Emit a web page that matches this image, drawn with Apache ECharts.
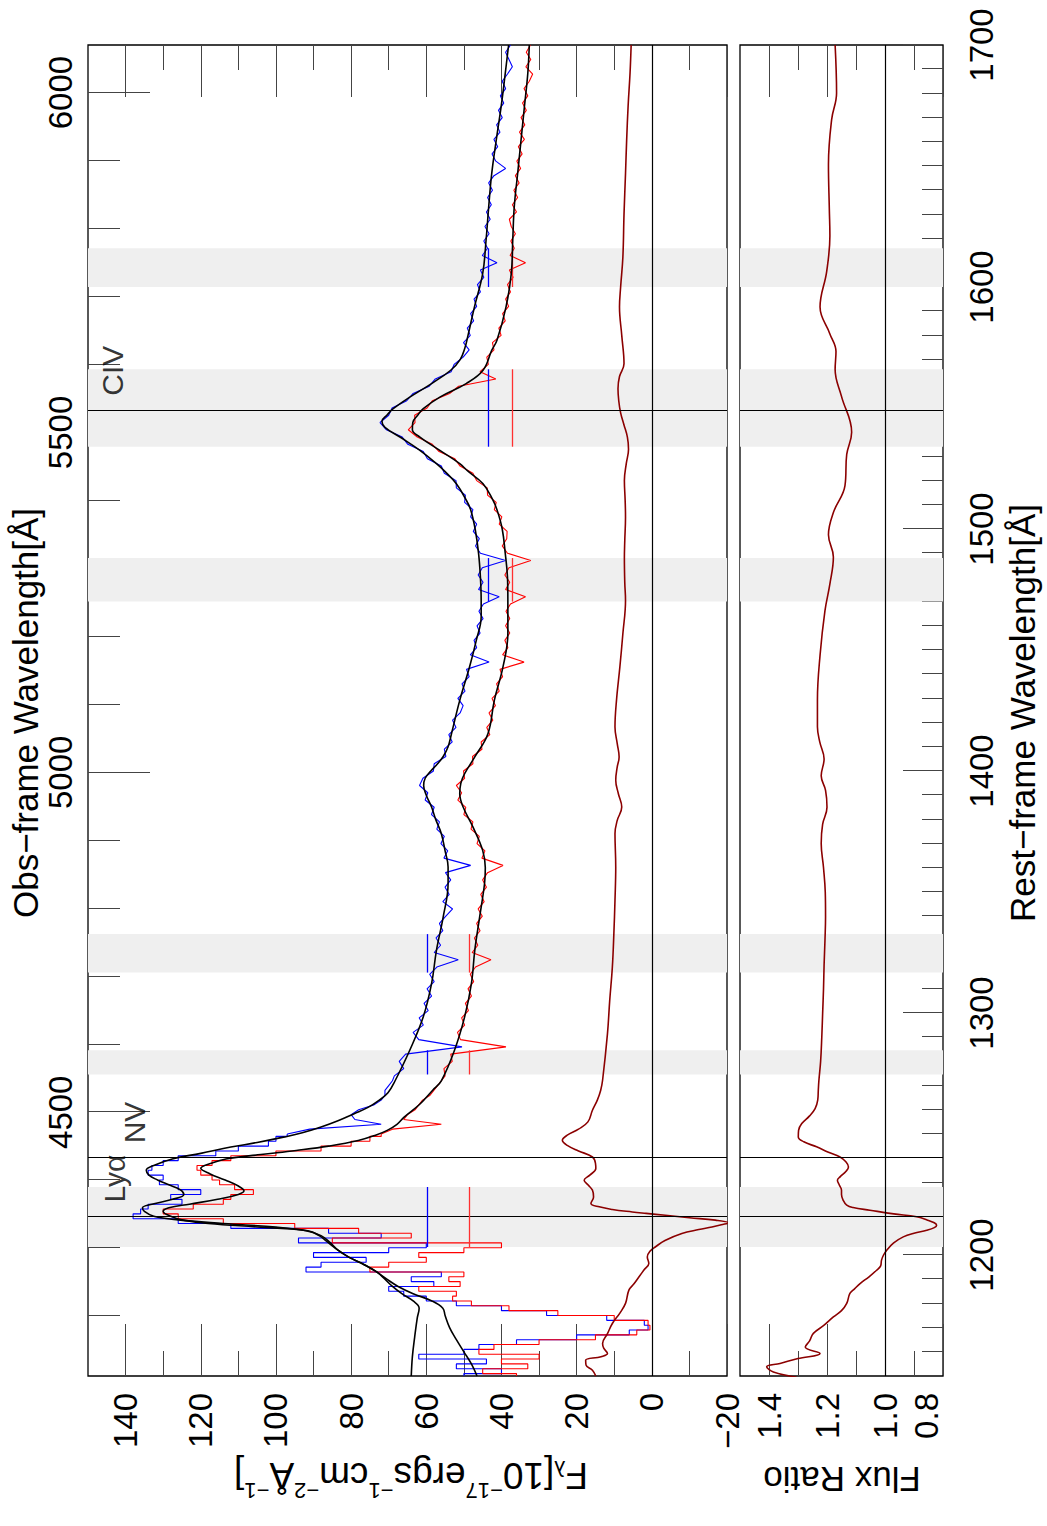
<!DOCTYPE html>
<html>
<head>
<meta charset="utf-8">
<title>Spectrum</title>
<script src="https://cdn.jsdelivr.net/npm/echarts@6/dist/echarts.min.js"></script>
<style>
  html, body { margin: 0; padding: 0; background: #fff; overflow: hidden; }
  #page { position: relative; width: 1047px; height: 1526px; overflow: hidden; }
  /* 横版图表整体逆时针旋转 90 度 */
  #chart { position: absolute; left: 0; top: 0; width: 1526px; height: 1047px;
           transform-origin: 0 0; transform: translate(0px, 1526px) rotate(-90deg); }
</style>
</head>
<body>
<div id="page"><div id="chart"></div></div>
<script>
// 坐标范围
const restRange = [1150, 1700];
const obsRange = [4112, 6070];
const fluxRange = [-20, 150];
const ratioRange = [0.8, 1.5];

// 刻度
const fluxTicks = [-20, 0, 20, 40, 60, 80, 100, 120, 140];
const fluxMinor = [-10, 10, 30, 50, 70, 90, 110, 130];
const ratioTicks = [0.8, 1.0, 1.2, 1.4];
const ratioMinor = [0.9, 1.1, 1.3];
const restTicks = [1200, 1300, 1400, 1500, 1600, 1700];
const obsTicks = [4500, 5000, 5500, 6000];
const restMinor = [];
for (let w = 1160; w < 1700; w += 10) restMinor.push(w);
const obsMinor = [];
for (let w = 4200; w <= 6000; w += 100) obsMinor.push(w);

// 谱线位置与标注
const lineWaves = [1215.67, 1240.14, 1549.06];
const lineNames = ['Lyα', 'NV', 'CIV'];
const lineLabelY = [143, 137.5, 143.5];

// 连续谱窗口
const bandRanges = [[1203.3, 1228.1], [1274.6, 1284.6], [1316.7, 1332.6], [1470, 1488], [1534, 1566], [1600, 1616]];
const contBlue = [59.7, 59.7, 59.7, 43.6, 43.6, 43.6];
const contRed = [48.5, 48.5, 48.5, 37.0, 37.0, 37.0];

// 光谱采样波长: 1150-1272 步长 2, 1274-1700 步长 3
const specWave = [];
for (let w = 1150; w <= 1272; w += 2) specWave.push(w);
for (let w = 1274; w <= 1700; w += 3) specWave.push(w);
const stepLimit = 1250; // 此波长以下按台阶线画

const blueSpec = [
  50, 40, 52, 44, 62, 50, 46, 36, 20, 6,
  1, 2, 12, 28, 40, 52, 60, 66, 70, 58,
  64, 56, 92, 88, 76, 90, 70, 60, 94, 72,
  86, 112, 126, 138, 136, 134, 125, 128, 120, 126,
  131, 130, 134, 133, 130, 126, 116, 110, 102, 100,
  97, 91, 72, 79, 80, 78, 74, 72, 71, 71,
  70, 69,
  68.5, 66.0, 67.2, 65.5, 50.5, 62.0, 63.5, 60.8, 61.9, 59.5,
  60.6, 58.6, 59.8, 57.9, 59.1, 57.2, 51.5, 57.9, 56.2, 57.4,
  55.6, 56.5, 54.8, 53.0, 55.6, 53.9, 55.0, 53.5, 54.9, 48.2,
  55.3, 54.3, 56.1, 55.2, 57.2, 56.5, 58.6, 57.9, 60.3, 59.6,
  61.8, 60.9, 58.1, 57.9, 54.8, 55.2, 53.1, 54.0, 52.1, 53.0,
  51.0, 50.2, 51.6, 49.7, 50.5, 48.6, 49.3, 43.3, 48.3, 46.6,
  47.3, 45.7, 46.5, 44.9, 46.0, 44.8, 40.6, 46.1, 44.9, 46.2,
  45.1, 38.9, 45.6, 46.9, 45.9, 47.5, 46.6, 48.2, 47.6, 49.8,
  49.6, 52.0, 52.1, 55.2, 56.0, 59.7, 60.8, 64.9, 66.4, 70.6,
  72.3, 70.0, 69.1, 65.2, 63.5, 59.2, 57.6, 53.4, 52.6, 50.2,
  48.6, 50.1, 48.3, 49.1, 47.4, 48.2, 46.6, 47.3, 45.6, 46.4,
  44.7, 45.6, 41.2, 45.1, 43.7, 44.7, 43.3, 44.4, 43.0, 44.0,
  42.7, 43.7, 42.4, 43.4, 42.0, 38.9, 41.5, 42.5, 41.0, 42.0,
  40.4, 41.3, 39.8, 40.8, 39.4, 40.3, 38.9, 39.8, 38.4, 37.1,
  38.0, 38.9, 37.6
];

const redSpec = [
  36, 45, 33, 40, 30, 46, 42, 30, 15, 4,
  0.5, 1, 10, 25, 38, 48, 53, 52, 62, 51,
  54, 50, 75, 70, 60, 62, 50, 40, 85, 64,
  78, 95, 114, 126, 130, 122, 114, 112, 106, 111,
  115, 117, 120, 121, 117, 112, 100, 88, 80, 75,
  72, 69, 56, 66, 65, 63, 62, 61, 59, 58,
  57, 56,
  55.0, 55.3, 53.1, 53.5, 38.8, 50.9, 51.7, 49.8, 50.6, 48.8,
  49.6, 48.0, 48.9, 47.4, 48.3, 46.9, 42.8, 47.8, 46.3, 47.2,
  45.7, 46.6, 45.1, 46.2, 44.6, 45.5, 44.0, 45.0, 43.7, 39.6,
  45.2, 44.4, 46.5, 45.9, 48.1, 47.6, 50.0, 49.5, 51.6, 50.6,
  52.0, 49.8, 50.1, 47.6, 47.7, 45.2, 45.4, 43.1, 43.9, 42.3,
  43.3, 41.6, 42.5, 40.6, 41.3, 39.7, 40.4, 34.0, 39.7, 38.3,
  39.1, 37.8, 38.9, 37.8, 38.8, 37.6, 33.6, 38.9, 37.8, 39.1,
  38.0, 32.2, 38.4, 39.8, 38.6, 38.5, 40.6, 39.9, 41.9, 41.4,
  43.7, 43.8, 46.6, 47.6, 51.0, 52.4, 56.6, 58.4, 62.4, 64.8,
  63.0, 63.1, 59.8, 58.4, 53.8, 51.4, 41.5, 45.7, 43.5, 43.9,
  42.0, 42.4, 40.1, 40.7, 39.0, 39.7, 38.1, 38.9, 37.6, 38.4,
  36.9, 37.9, 33.6, 37.7, 36.6, 37.5, 36.3, 37.4, 37.9, 36.0,
  37.1, 35.7, 36.7, 35.3, 36.3, 34.9, 35.9, 34.5, 35.5, 33.9,
  35.2, 33.8, 34.8, 33.4, 34.4, 33.0, 34.0, 32.6, 31.7, 33.5,
  32.2, 33.4, 32.3
];

// 拟合曲线
const blueFitWave = [1150, 1158, 1166, 1174, 1178, 1181, 1184, 1187, 1190, 1193, 1196, 1199, 1202, 1205, 1208, 1210, 1211.5, 1213, 1214.5, 1216, 1218, 1219.5, 1221, 1223, 1225, 1227, 1229, 1231, 1233, 1235, 1237, 1239.7, 1242, 1244.6, 1246.5, 1248.7, 1250.5, 1252.9, 1255.5, 1258.4, 1261, 1263.9, 1267, 1272, 1284.6, 1298.4, 1312.1, 1325.9, 1339.7, 1353.5, 1360.3, 1367, 1374.1, 1380, 1385.1, 1390, 1394, 1397, 1400, 1403, 1406, 1410, 1415.4, 1429.2, 1443, 1454, 1463.7, 1470.5, 1480, 1490, 1500, 1508, 1512, 1518.7, 1524, 1527, 1532.5, 1538, 1542, 1544.5, 1547, 1549.7, 1554.5, 1560.1, 1565.6, 1570, 1575, 1580, 1591.7, 1605.5, 1619.3, 1633.1, 1646.8, 1660.6, 1674.4, 1688.2, 1700];
const blueFitFlux = [64.0, 63.7, 63.1, 62.4, 61.9, 63.5, 66.5, 69.0, 71.0, 73.2, 76.5, 80.5, 83.5, 85.5, 88.0, 92.0, 100.0, 114.0, 126.0, 132.5, 135.0, 135.5, 133.0, 127.5, 124.5, 125.5, 128.5, 131.5, 133.8, 134.5, 132.5, 127.6, 120.0, 112.0, 105.0, 98.0, 93.0, 88.0, 83.5, 79.2, 75.5, 72.6, 70.2, 68.3, 64.4, 60.8, 58.6, 57.3, 55.5, 54.2, 54.2, 55.0, 56.0, 57.5, 58.6, 60.0, 60.7, 60.3, 58.8, 57.0, 55.5, 54.2, 53.3, 51.1, 48.5, 46.7, 45.4, 45.4, 45.6, 46.1, 47.0, 48.2, 49.4, 52.0, 55.2, 57.3, 61.7, 67.0, 71.0, 71.8, 70.5, 68.8, 64.4, 58.6, 53.5, 51.0, 49.7, 48.9, 47.2, 45.0, 44.1, 43.4, 42.6, 41.4, 40.1, 39.0, 38.1];

const redFitWave = [1150, 1155, 1160, 1165, 1170, 1175, 1178, 1181, 1184, 1187, 1190, 1193, 1196, 1199, 1202, 1205, 1208, 1210, 1211.5, 1213, 1214.5, 1216, 1218, 1219.5, 1221, 1223, 1225, 1226.5, 1228.5, 1231, 1233.5, 1235.8, 1238, 1239.7, 1241.5, 1243.2, 1245, 1247.3, 1249.5, 1251.5, 1254, 1257, 1262.5, 1268.1, 1272, 1284.6, 1298.4, 1312.1, 1325.9, 1339.7, 1353.5, 1360, 1367.2, 1376.9, 1385.1, 1390.6, 1395, 1398.9, 1405.8, 1415.4, 1429.2, 1443, 1456.8, 1470.5, 1480, 1490, 1500, 1508, 1512, 1518.7, 1524, 1527, 1532.5, 1538, 1541, 1544, 1547, 1549.7, 1554.5, 1560.1, 1565.6, 1573.8, 1578, 1591.7, 1605.5, 1619.3, 1633.1, 1646.8, 1660.6, 1674.4, 1688.2, 1700];
const redFitFlux = [46.5, 48.0, 50.0, 52.0, 53.8, 55.0, 55.6, 58.5, 63.5, 67.5, 70.5, 73.2, 76.5, 80.5, 83.5, 86.0, 88.5, 91.5, 104.0, 118.0, 125.0, 128.0, 130.0, 128.5, 123.0, 115.5, 110.0, 108.5, 110.0, 113.5, 117.5, 120.0, 117.0, 113.3, 104.0, 94.6, 86.0, 78.1, 73.5, 70.4, 67.8, 65.9, 61.6, 58.3, 56.0, 52.5, 49.8, 48.0, 47.1, 45.8, 44.5, 44.3, 45.0, 47.6, 50.2, 51.1, 50.8, 49.8, 47.1, 43.6, 41.9, 39.6, 38.3, 38.3, 38.4, 39.0, 39.8, 41.2, 42.3, 44.9, 49.0, 51.1, 56.4, 61.7, 63.7, 63.6, 62.3, 60.8, 56.4, 49.4, 44.9, 42.6, 41.2, 38.8, 37.4, 37.0, 36.6, 35.7, 34.8, 33.9, 33.0, 32.6];

// 差值曲线
const diffWave = [1150, 1152.4, 1154.5, 1156.5, 1158, 1159.3, 1161.5, 1163.4, 1167.5, 1171.7, 1176, 1180, 1185.5, 1188, 1191, 1194, 1196.5, 1199.2, 1201.5, 1203.4, 1206, 1208.9, 1210.5, 1211.6, 1212.5, 1213.3, 1214.4, 1215.4, 1216.4, 1217.2, 1217.8, 1218.8, 1219.9, 1221.3, 1224, 1226.8, 1229, 1230.9, 1233, 1235.7, 1238, 1240.5, 1243, 1245.3, 1247.4, 1249.5, 1252, 1255, 1259.8, 1264, 1268.1, 1272.2, 1291.5, 1305.2, 1319, 1332.8, 1346.6, 1360.3, 1374.1, 1379.6, 1385.1, 1390.6, 1396.2, 1401.7, 1405.8, 1411.3, 1418.2, 1429.2, 1443, 1456.8, 1470.5, 1478, 1488, 1495, 1505, 1512, 1520, 1527, 1533, 1538, 1543, 1548, 1553, 1558, 1563, 1568.3, 1580, 1591.7, 1600, 1612.4, 1630, 1646.8, 1660.6, 1675, 1688.2, 1700];
const diffFlux = [14.9, 15.8, 17.5, 17.6, 13.5, 11.8, 12.8, 13.1, 11.8, 10.5, 8.5, 7.0, 6.1, 4.8, 3.4, 2.0, 0.8, 1.2, 0.5, -1.0, -3.5, -8.0, -12.5, -16.0, -18.5, -20.5, -16.9, -10.0, -3.6, 1.5, 5.2, 10.5, 14.0, 16.2, 15.5, 15.8, 17.0, 18.0, 16.5, 14.9, 15.0, 15.8, 19.5, 22.5, 23.8, 22.5, 19.5, 17.0, 15.8, 14.5, 13.6, 13.1, 11.8, 11.2, 10.5, 10.1, 9.8, 9.6, 9.8, 9.2, 8.0, 8.9, 9.6, 9.2, 8.7, 9.2, 9.8, 9.4, 8.5, 7.7, 7.0, 7.2, 7.3, 7.2, 7.0, 7.1, 7.3, 6.8, 6.2, 6.5, 7.4, 8.3, 8.8, 9.0, 8.6, 7.4, 8.0, 8.6, 8.3, 7.7, 7.4, 7.0, 6.7, 6.3, 5.8, 5.5];

// 流量比
const ratioWave = [1149.5, 1151.7, 1153.8, 1155.2, 1157.2, 1159.3, 1162, 1164.5, 1167.6, 1171, 1174.4, 1177, 1180, 1184.1, 1186, 1188.2, 1191, 1193.7, 1195.5, 1197.9, 1200, 1202, 1205, 1207.5, 1209, 1210.2, 1211.3, 1212.3, 1213.3, 1214.5, 1215.8, 1217, 1218.5, 1219.6, 1220.6, 1222.6, 1225, 1226.8, 1229, 1230.9, 1232.3, 1234.5, 1236.4, 1238.5, 1240.5, 1242.5, 1244.7, 1246.8, 1248.8, 1251.5, 1254.3, 1257.5, 1260.5, 1264, 1268.1, 1272, 1280, 1290, 1300, 1310, 1320, 1330, 1340, 1350, 1360, 1370, 1378, 1385, 1392, 1398, 1405, 1412, 1418.3, 1429.4, 1447.8, 1466.3, 1477.3, 1488.4, 1497.6, 1506.8, 1517.9, 1530.8, 1540, 1554.8, 1565.9, 1573.3, 1580.6, 1591.7, 1606.5, 1621.2, 1632.3, 1650.7, 1669.2, 1680.2, 1700];
const ratioVals = [1.305, 1.385, 1.408, 1.362, 1.30, 1.224, 1.275, 1.26, 1.247, 1.21, 1.178, 1.15, 1.132, 1.121, 1.105, 1.086, 1.055, 1.029, 1.015, 1.012, 1.005, 0.994, 0.97, 0.937, 0.9, 0.856, 0.83, 0.822, 0.83, 0.855, 0.891, 0.97, 1.052, 1.11, 1.132, 1.144, 1.15, 1.15, 1.158, 1.164, 1.155, 1.135, 1.126, 1.135, 1.155, 1.195, 1.236, 1.28, 1.299, 1.298, 1.287, 1.26, 1.241, 1.232, 1.23, 1.228, 1.222, 1.218, 1.215, 1.212, 1.21, 1.207, 1.205, 1.206, 1.212, 1.22, 1.215, 1.2, 1.205, 1.22, 1.21, 1.225, 1.233, 1.233, 1.224, 1.207, 1.19, 1.178, 1.195, 1.178, 1.138, 1.132, 1.115, 1.15, 1.172, 1.169, 1.19, 1.224, 1.201, 1.19, 1.192, 1.195, 1.184, 1.167, 1.172];

const FONT = 'Liberation Sans, Arial, sans-serif';

function zip(xs, ys) {
  const n = Math.min(xs.length, ys.length);
  const out = [];
  for (let i = 0; i < n; i++) out.push([xs[i], ys[i]]);
  return out;
}

// 坐标轴: 只画刻度, 外框由 grid 边框提供
function makeAxis(base, ticks, len, label) {
  return Object.assign({
    type: 'value',
    silent: true,
    axisLine: { show: false, onZero: false },
    splitLine: { show: false },
    axisTick: {
      show: ticks.length > 0, inside: true, length: len, customValues: ticks,
      lineStyle: { color: '#444', width: 1 }
    },
    axisLabel: label
      ? Object.assign({ show: true, customValues: ticks, color: '#000', fontSize: 33, fontFamily: FONT, formatter: v => String(v) }, label)
      : { show: false }
  }, base);
}

const minusFmt = v => String(v).replace('-', '−');

function lineSeries(name, x, y, data, color, width, extra) {
  return Object.assign({
    name, type: 'line', xAxisIndex: x, yAxisIndex: y, data,
    symbol: 'none', showSymbol: false, silent: true,
    lineStyle: { color, width }, itemStyle: { color }
  }, extra || {});
}

function bandSeries(x, y) {
  return {
    type: 'line', xAxisIndex: x, yAxisIndex: y, data: [], z: 0, silent: true,
    markArea: {
      silent: true, itemStyle: { color: '#efefef' },
      data: bandRanges.map(r => [{ xAxis: r[0] }, { xAxis: r[1] }])
    }
  };
}

function refLineSeries(x, y, level) {
  return {
    type: 'line', xAxisIndex: x, yAxisIndex: y, data: [], z: 2, silent: true,
    markLine: {
      silent: true, symbol: ['none', 'none'], label: { show: false },
      lineStyle: { color: '#000', width: 1.2, type: 'solid' },
      data: lineWaves.map(w => ({ xAxis: w })).concat([{ yAxis: level }])
    }
  };
}

function contSeries(levels, color) {
  return {
    type: 'line', xAxisIndex: 0, yAxisIndex: 0, data: [], z: 4, silent: true,
    markLine: {
      silent: true, symbol: ['none', 'none'], label: { show: false },
      lineStyle: { color, width: 1.3, type: 'solid' },
      data: bandRanges.map((r, i) => [{ coord: [r[0], levels[i]] }, { coord: [r[1], levels[i]] }])
    }
  };
}

// 低波段用台阶线, 其余用折线
const bluePts = zip(specWave, blueSpec);
const redPts = zip(specWave, redSpec);
const lowPart = pts => pts.filter(p => p[0] <= stepLimit);
const highPart = pts => pts.filter(p => p[0] >= stepLimit);

const titleStyle = { fontSize: 35, fontFamily: FONT, fill: '#000', align: 'center', verticalAlign: 'middle' };

const option = {
  animation: false,
  backgroundColor: '#fff',
  textStyle: { fontFamily: FONT },
  grid: [
    { left: 150, top: 88, width: 1331, height: 639, show: true, borderColor: '#000', borderWidth: 1.3, backgroundColor: 'transparent' },
    { left: 150, top: 740, width: 1331, height: 203, show: true, borderColor: '#000', borderWidth: 1.3, backgroundColor: 'transparent' }
  ],
  xAxis: [
    makeAxis({ gridIndex: 0, position: 'bottom', min: restRange[0], max: restRange[1] }, [], 0, null),
    makeAxis({ gridIndex: 0, position: 'top', min: obsRange[0], max: obsRange[1] }, obsTicks, 62, { margin: 11 }),
    makeAxis({ gridIndex: 0, position: 'top', min: obsRange[0], max: obsRange[1] }, obsMinor, 32, null),
    makeAxis({ gridIndex: 1, position: 'bottom', min: restRange[0], max: restRange[1] }, restTicks, 40, { margin: 22 }),
    makeAxis({ gridIndex: 1, position: 'bottom', min: restRange[0], max: restRange[1] }, restMinor, 21, null)
  ],
  yAxis: [
    makeAxis({ gridIndex: 0, position: 'left', min: fluxRange[0], max: fluxRange[1] }, fluxTicks, 52, { margin: 17, formatter: minusFmt }),
    makeAxis({ gridIndex: 0, position: 'left', min: fluxRange[0], max: fluxRange[1] }, fluxMinor, 25, null),
    makeAxis({ gridIndex: 0, position: 'right', min: fluxRange[0], max: fluxRange[1] }, fluxTicks, 52, null),
    makeAxis({ gridIndex: 0, position: 'right', min: fluxRange[0], max: fluxRange[1] }, fluxMinor, 25, null),
    makeAxis({ gridIndex: 1, position: 'left', min: ratioRange[0], max: ratioRange[1] }, ratioTicks, 52,
      { margin: 17, formatter: v => Number(v).toFixed(1), verticalAlignMinLabel: 'bottom' }),
    makeAxis({ gridIndex: 1, position: 'left', min: ratioRange[0], max: ratioRange[1] }, ratioMinor, 25, null),
    makeAxis({ gridIndex: 1, position: 'right', min: ratioRange[0], max: ratioRange[1] }, ratioTicks, 52, null),
    makeAxis({ gridIndex: 1, position: 'right', min: ratioRange[0], max: ratioRange[1] }, ratioMinor, 25, null)
  ],
  series: [
    bandSeries(0, 0),
    bandSeries(3, 4),
    refLineSeries(0, 0, 0),
    refLineSeries(3, 4, 1),
    lineSeries('blueLow', 0, 0, lowPart(bluePts), '#0000ff', 1.1, { z: 3, step: 'middle' }),
    lineSeries('blueHigh', 0, 0, highPart(bluePts), '#0000ff', 1.1, { z: 3 }),
    lineSeries('redLow', 0, 0, lowPart(redPts), '#ff0000', 1.1, { z: 3, step: 'middle' }),
    lineSeries('redHigh', 0, 0, highPart(redPts), '#ff0000', 1.1, { z: 3 }),
    contSeries(contBlue, '#0000ff'),
    contSeries(contRed, '#ff3030'),
    lineSeries('blueFit', 0, 0, zip(blueFitWave, blueFitFlux), '#000', 1.6, { z: 5, smooth: 0.4 }),
    lineSeries('redFit', 0, 0, zip(redFitWave, redFitFlux), '#000', 1.6, { z: 5, smooth: 0.4 }),
    lineSeries('diff', 0, 0, zip(diffWave, diffFlux), '#8b0000', 1.6, { z: 4, smooth: 0.4 }),
    lineSeries('ratio', 3, 4, zip(ratioWave, ratioVals), '#8b0000', 1.6, { z: 4, smooth: 0.4 }),
    {
      type: 'scatter', xAxisIndex: 0, yAxisIndex: 0, z: 6, silent: true,
      symbolSize: 1, itemStyle: { color: 'transparent' },
      data: lineWaves.map((w, i) => ({ name: lineNames[i], value: [w, lineLabelY[i]] })),
      label: { show: true, position: 'right', distance: 14, formatter: '{b}', fontSize: 30, fontFamily: FONT, color: '#000' }
    }
  ],
  graphic: [
    { type: 'text', x: 813, y: 25, silent: true, style: Object.assign({ text: 'Obs−frame Wavelength[Å]' }, titleStyle) },
    { type: 'text', x: 813, y: 1022, silent: true, style: Object.assign({ text: 'Rest−frame Wavelength[Å]' }, titleStyle) },
    {
      type: 'text', x: 47, y: 411, rotation: Math.PI / 2, silent: true,
      style: {
        text: '{b|F}{s|λ}{b|[10}{p|−17}{b|ergs}{p|−1}{b|cm}{p|−2}{b|Å}{p|−1}{b|]}',
        align: 'center', verticalAlign: 'middle', fill: '#000', fontFamily: FONT,
        rich: {
          b: { fontSize: 37, fontFamily: FONT, lineHeight: 44, verticalAlign: 'bottom' },
          p: { fontSize: 22, fontFamily: FONT, verticalAlign: 'top' },
          s: { fontSize: 22, fontFamily: FONT, verticalAlign: 'bottom' }
        }
      }
    },
    { type: 'text', x: 47, y: 842, rotation: Math.PI / 2, silent: true, style: Object.assign({ text: 'Flux Ratio' }, titleStyle) }
  ]
};

const chart = echarts.init(document.getElementById('chart'), null, { renderer: 'svg', width: 1526, height: 1047 });
chart.setOption(option);
</script>
</body>
</html>
